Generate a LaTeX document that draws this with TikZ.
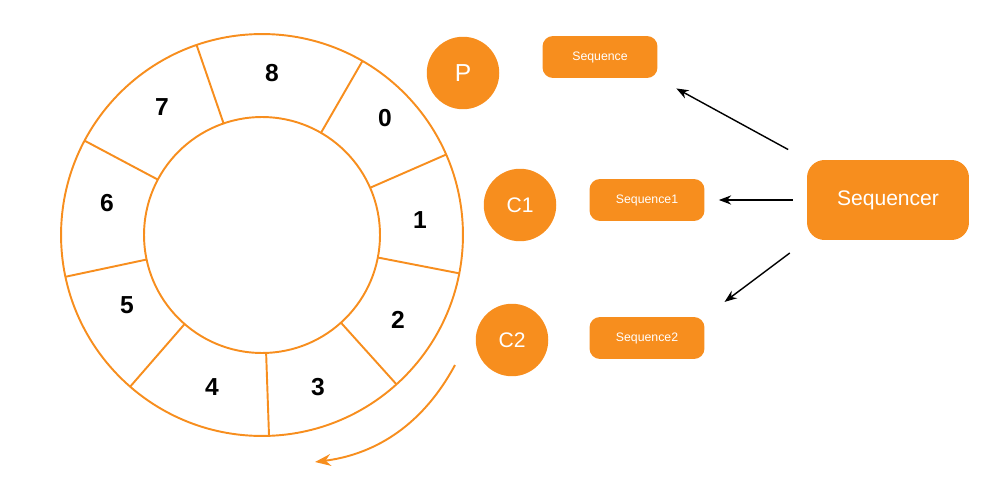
\documentclass[tikz,border=0pt]{standalone}
\usepackage{fontspec}
\setmainfont{Liberation Sans}
\usetikzlibrary{arrows.meta}
\definecolor{ringorange}{RGB}{247,142,30}
\begin{document}
\begin{tikzpicture}[x=0.02cm,y=-0.02cm]
% Estilos
\tikzset{
  ring/.style={ringorange, line width=1.1pt},
  slot/.style={font=\bfseries\fontsize{14}{16}\selectfont},
  actor/.style={circle, fill=ringorange, text=white, minimum size=1.45cm, inner sep=0pt, font=\fontsize{12}{14}\selectfont},
  seqbox/.style={rectangle, rounded corners=6pt, fill=ringorange, text=white, minimum width=2.3cm, minimum height=0.84cm, font=\fontsize{7}{8}\selectfont},
  link/.style={-{Stealth[length=7pt]}, thick, black}
}
\useasboundingbox (0,0) rectangle (1000,500);

% Anel
\coordinate (ctr) at (262,235);
\draw[ring] (ctr) circle[radius=4.02cm];
\draw[ring] (ctr) circle[radius=2.36cm];
\foreach \a in {109,60,23.6,-11,-48,-88,-131,-168,152}
  \draw[ring] (ctr) ++(\a:2.36cm) -- ++(\a:1.66cm);

% Posicoes
\node[slot] (n8) at (272,73) {8};
\node[slot] (n0) at (385,118) {0};
\node[slot] (n1) at (420,220) {1};
\node[slot] (n2) at (398,320) {2};
\node[slot] (n3) at (318,387) {3};
\node[slot] (n4) at (212,387) {4};
\node[slot] (n5) at (127,305) {5};
\node[slot] (n6) at (107,203) {6};
\node[slot] (n7) at (162,107) {7};

% Sentido de rotacao
\coordinate (rotA) at (455,365);
\coordinate (rotB) at (315,462);
\draw[ring, -{Stealth[length=9pt]}] (rotA) .. controls (420,430) and (370,455) .. (rotB);

% Produtor e consumidores
\node[actor, font=\fontsize{14}{16}\selectfont] (p) at (463,73) {P};
\node[actor] (c1) at (520,205) {C1};
\node[actor] (c2) at (512,340) {C2};

\node[seqbox] (seq0) at (600,57) {Sequence};
\node[seqbox] (seq1) at (647,200) {Sequence1};
\node[seqbox] (seq2) at (647,338) {Sequence2};

\node[seqbox, minimum width=3.24cm, minimum height=1.6cm, rounded corners=10pt, font=\fontsize{12}{14}\selectfont] (seqr) at (888,200) {Sequencer};

% Ligacoes
\draw[link, shorten <=12pt, shorten >=12pt] (seqr.north west) -- (seq0.south east);
\draw[link, shorten <=8pt, shorten >=8pt] (seqr.west) -- (seq1.east);
\draw[link, shorten <=12pt, shorten >=14pt] (seqr.south west) -- (seq2.north east);
\end{tikzpicture}
\end{document}
